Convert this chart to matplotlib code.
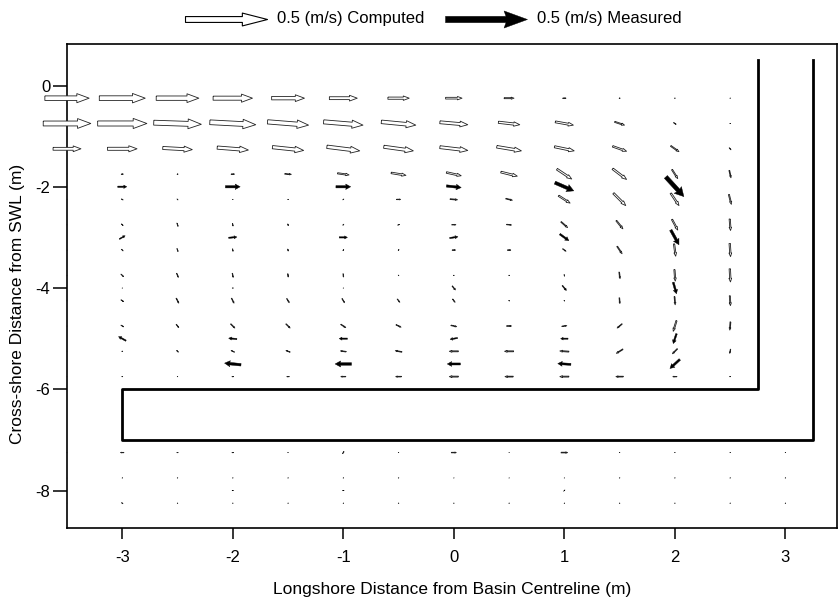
import numpy as np
import matplotlib
matplotlib.use('Agg')
import matplotlib.pyplot as plt

plt.rcParams['font.family'] = ['Liberation Sans', 'DejaVu Sans']
plt.rcParams['axes.unicode_minus'] = False

# computed velocities inside the basin (m/s), rows run offshore
x_comp = [-3.5, -3.0, -2.5, -2.0, -1.5, -1.0, -0.5, 0.0, 0.5, 1.0, 1.5, 2.0, 2.5]
y_comp = [-0.25, -0.75, -1.25, -1.75, -2.25, -2.75, -3.25, -3.75, -4.25, -4.75, -5.25, -5.75]
u_comp = [
    [0.27, 0.28, 0.26, 0.24, 0.20, 0.17, 0.13, 0.10, 0.06, 0.02, 0.006, 0.004, 0.003],
    [0.29, 0.30, 0.29, 0.28, 0.25, 0.24, 0.21, 0.17, 0.13, 0.11, 0.06, 0.015, 0.004],
    [0.17, 0.18, 0.18, 0.19, 0.19, 0.20, 0.18, 0.17, 0.15, 0.12, 0.085, 0.05, 0.01],
    [0.003, 0.012, 0.006, 0.02, 0.04, 0.07, 0.09, 0.09, 0.10, 0.09, 0.085, 0.035, 0.01],
    [0.004, 0.01, 0.005, 0.003, 0.004, 0.006, 0.025, 0.045, 0.04, 0.07, 0.075, 0.05, 0.015],
    [0.004, 0.01, 0.006, 0.003, 0.002, 0.006, 0.01, 0.025, 0.03, 0.04, 0.04, 0.035, 0.005],
    [0.004, 0.01, 0.006, 0.003, 0.002, 0.005, 0.005, 0.02, 0.02, 0.02, 0.03, 0.01, 0.005],
    [0.004, 0.015, 0.01, 0.005, 0.002, 0.002, 0.003, 0.004, 0.003, 0.002, 0.005, 0.005, 0.004],
    [0.004, 0.015, 0.015, 0.015, 0.015, 0.015, 0.015, 0.015, 0.004, 0.003, 0.003, 0.004, 0.004],
    [0.004, 0.015, 0.015, 0.025, 0.025, 0.03, 0.03, 0.035, 0.03, 0.03, -0.03, -0.02, -0.004],
    [-0.003, -0.005, -0.01, -0.02, -0.025, -0.035, -0.04, -0.055, -0.055, -0.055, -0.04, -0.03, -0.005],
    [-0.003, -0.005, -0.003, -0.01, -0.015, -0.03, -0.035, -0.055, -0.05, -0.055, -0.045, -0.025, -0.005],
]
v_comp = [
    [0, 0, 0, 0, 0, 0, 0, 0, 0, 0, 0, 0, 0],
    [0, 0, -0.01, -0.015, -0.02, -0.02, -0.02, -0.015, -0.015, -0.02, -0.02, -0.01, 0],
    [0, 0, -0.01, -0.015, -0.02, -0.025, -0.025, -0.02, -0.025, -0.025, -0.03, -0.035, -0.012],
    [0, 0, 0, 0, -0.003, -0.01, -0.015, -0.02, -0.025, -0.06, -0.065, -0.055, -0.045],
    [0, -0.006, -0.006, 0, 0, 0.004, 0, -0.004, -0.01, -0.045, -0.075, -0.075, -0.06],
    [-0.005, -0.01, -0.02, -0.015, -0.01, 0.006, 0.004, 0, -0.003, -0.035, -0.05, -0.065, -0.07],
    [-0.005, -0.01, -0.018, -0.015, -0.012, 0.006, 0.005, 0, 0, -0.015, -0.045, -0.075, -0.08],
    [-0.006, -0.015, -0.025, -0.025, -0.02, -0.02, -0.004, 0, -0.003, -0.01, -0.04, -0.07, -0.08],
    [-0.005, -0.01, -0.03, -0.03, -0.025, -0.025, -0.02, -0.02, -0.003, -0.004, -0.035, -0.05, -0.06],
    [-0.005, -0.01, -0.02, -0.025, -0.025, -0.02, -0.015, -0.008, 0, 0.004, -0.025, -0.065, -0.05],
    [0.002, 0, 0.01, 0.01, 0.01, 0.005, 0.008, 0, 0, 0.004, -0.025, -0.03, -0.025],
    [0, 0, 0, 0, 0, 0, 0, 0, 0, 0, 0, 0, 0],
]

# computed velocities seaward of the breakwater
x_far = [-3.5, -3.0, -2.5, -2.0, -1.5, -1.0, -0.5, 0.0, 0.5, 1.0, 1.5, 2.0, 2.5, 3.0]
y_far = [-7.25, -7.75, -8.25]
u_far = [
    [-0.005, -0.02, -0.008, -0.01, -0.003, 0.008, -0.003, 0.03, 0.002, 0.04, 0.003, 0.003, 0.003, 0.003],
    [0.003, 0.003, 0.003, 0.003, 0.003, 0.003, 0.003, 0.002, 0.002, 0.002, 0.003, 0.003, 0.003, 0.003],
    [0.003, 0.008, 0.003, 0.003, 0.003, 0.003, 0.003, 0.003, 0.003, 0.003, 0.003, 0.003, 0.003, 0.003],
]
v_far = [
    [0, 0, 0, 0, 0, 0.012, 0, 0, 0, 0, 0, 0, 0, 0],
    [0, 0, 0, 0, 0, 0, 0, 0, 0, 0, 0, 0, 0, 0],
    [0, -0.006, 0, 0, 0, 0, 0, 0, 0, 0, 0, 0, 0, 0],
]

# measured velocities
x_meas = [-3, -2, -1, 0, 1, 2]
y_meas = [-2, -3, -4, -5, -5.5, -8]
u_meas = [
    [0.055, 0.09, 0.09, 0.09, 0.115, 0.11],
    [0.035, 0.05, 0.05, 0.05, 0.055, 0.05],
    [0.004, 0.008, 0.004, 0.02, 0.025, 0.02],
    [-0.045, -0.05, -0.05, -0.045, -0.045, -0.02],
    [0.0, -0.1, -0.1, -0.08, -0.08, -0.06],
    [0.0, -0.01, -0.01, 0.0, 0.008, 0.0],
]
v_meas = [
    [0, 0, 0, -0.01, -0.05, -0.12],
    [0.02, 0.005, 0, 0.008, -0.04, -0.09],
    [0, 0, 0, -0.025, -0.03, -0.07],
    [0.025, 0.005, 0, -0.008, 0, -0.06],
    [0, 0.01, 0, 0, 0.005, -0.055],
    [0, 0, 0, 0, 0.008, 0],
]

# L-shaped groyne / breakwater outline
groyne_x = [2.75, 2.75, -3.0, -3.0, 3.25, 3.25]
groyne_y = [0.5, -6.0, -6.0, -7.0, -7.0, 0.5]

SCALE = 0.674  # m/s per x-unit

fig = plt.figure(figsize=(8.4, 6), dpi=100)
ax = fig.add_axes([67/840, 1-528/600, 770/840, 484/600])

XC, YC = np.meshgrid(x_comp, y_comp)
XF, YF = np.meshgrid(x_far, y_far)
xc = np.concatenate([XC.ravel(), XF.ravel()])
yc = np.concatenate([YC.ravel(), YF.ravel()])
uc = np.concatenate([np.array(u_comp).ravel(), np.array(u_far).ravel()])
vc = np.concatenate([np.array(v_comp).ravel(), np.array(v_far).ravel()])

ax.quiver(xc, yc, uc, vc, pivot='middle', angles='uv', scale_units='x', scale=SCALE,
          width=0.012, headlength=2.7, headaxislength=2.7, headwidth=2.0,
          minshaft=3.6, minlength=0, facecolors='white', edgecolors='#222222',
          linewidths=0.6, clip_on=False, zorder=3)

XM, YM = np.meshgrid(x_meas, y_meas)
ax.quiver(XM, YM, np.array(u_meas), np.array(v_meas), pivot='middle', angles='uv',
          scale_units='x', scale=SCALE, width=0.012, headlength=2.2,
          headaxislength=2.0, headwidth=2.4, minshaft=2.95, minlength=0,
          facecolors='black', edgecolors='black', linewidths=0.3, zorder=4)

ax.plot(groyne_x, groyne_y, color='black', lw=2.0, zorder=5)

# legend arrows
qk1 = ax.quiver([10], [10], [0.5], [0], angles='uv', scale_units='x', scale=SCALE,
                width=0.012, headlength=4.3, headaxislength=4.3, headwidth=2.2,
                minshaft=3.26, minlength=0, facecolors='white', edgecolors='black',
                linewidths=0.8)
qk2 = ax.quiver([10], [10], [0.5], [0], angles='uv', scale_units='x', scale=SCALE,
                width=0.012, headlength=3.7, headaxislength=3.4, headwidth=2.7,
                minshaft=3.5, minlength=0, facecolors='black', edgecolors='black',
                linewidths=0.3)
ax.quiverkey(qk1, 267/840, 1-19/600, 0.5, '0.5 (m/s) Computed', labelpos='E',
             coordinates='figure', fontproperties={'size': 12})
ax.quiverkey(qk2, 527/840, 1-19/600, 0.5, '0.5 (m/s) Measured', labelpos='E',
             coordinates='figure', fontproperties={'size': 12})

ax.set_xlim(-3.5, 3.467)
ax.set_ylim(-8.74, 0.82)
ax.set_xticks([-3, -2, -1, 0, 1, 2, 3])
ax.set_yticks([0, -2, -4, -6, -8])
ax.tick_params(direction='out', width=1.1, labelsize=12)
ax.tick_params(axis='x', length=8, pad=8)
ax.tick_params(axis='y', length=10, pad=2)
for s in ax.spines.values():
    s.set_linewidth(1.2)

ax.set_xlabel('Longshore Distance from Basin Centreline (m)', fontsize=12.5, labelpad=12)
ax.set_ylabel('Cross-shore Distance from SWL (m)', fontsize=12.5)
ax.yaxis.set_label_coords(-0.0545, 0.4628)

fig.savefig('out.png', dpi=100)
